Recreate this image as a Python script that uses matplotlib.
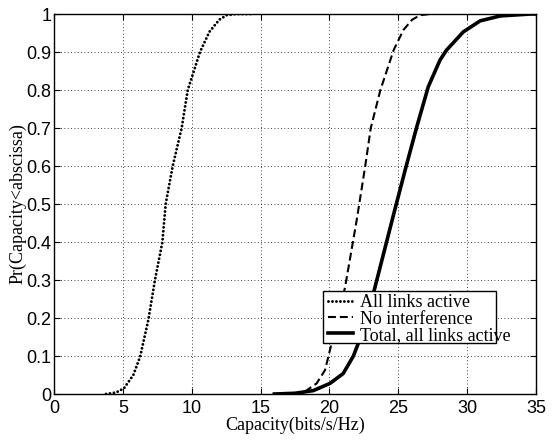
import matplotlib
matplotlib.use("Agg")
import matplotlib.pyplot as plt
from matplotlib.patches import Rectangle

# CDF curves
all_x = [3.78, 4.5, 5.08, 5.76, 6.25, 6.85, 7.33, 7.87, 8.11, 8.62, 9.27, 9.71, 10.6, 11.28, 12.0, 12.54, 13.2, 14.35]
all_y = [0.0, 0.004, 0.015, 0.05, 0.098, 0.195, 0.30, 0.40, 0.50, 0.60, 0.70, 0.80, 0.90, 0.953, 0.985, 0.997, 1.0, 1.0]

noint_x = [16.5, 17.5, 18.2, 19.07, 19.68, 20.1, 20.65, 21.13, 21.98, 22.59, 23.0, 23.7, 24.66, 25.37, 26.0, 26.58, 27.3]
noint_y = [0.0, 0.001, 0.006, 0.028, 0.063, 0.125, 0.21, 0.28, 0.458, 0.598, 0.70, 0.80, 0.905, 0.958, 0.985, 0.997, 1.0]

total_x = [16.0, 17.5, 18.83, 20.04, 21.0, 21.74, 22.46, 23.3, 24.64, 25.56, 26.34, 27.18, 28.03, 28.5, 29.72, 30.94, 32.4, 34.6, 35.0]
total_y = [0.0, 0.002, 0.009, 0.028, 0.054, 0.10, 0.168, 0.28, 0.47, 0.598, 0.703, 0.809, 0.879, 0.905, 0.953, 0.982, 0.995, 1.0, 1.0]

labels = ["All links active", "No interference", "Total, all links active"]

fig = plt.figure(figsize=(5.59, 4.40), dpi=100)
ax = fig.add_axes([0.0966, 0.1045, 0.8623, 0.8636])

ax.plot(all_x, all_y, color="black", linestyle=(0, (0.01, 1.35)), linewidth=2.1,
        dash_capstyle="round", label=labels[0])
ax.plot(noint_x, noint_y, color="black", linestyle=(0, (3.8, 1.9)), linewidth=1.5, label=labels[1])
ax.plot(total_x, total_y, color="black", linestyle="-", linewidth=2.6, label=labels[2])

ax.set_xlim(0, 35)
ax.set_ylim(0, 1)
ax.set_xticks(range(0, 36, 5))
ax.set_yticks([i / 10 for i in range(11)])
ax.set_yticklabels(["0", "0.1", "0.2", "0.3", "0.4", "0.5", "0.6", "0.7", "0.8", "0.9", "1"])
ax.grid(True, color="black", linestyle=(0, (1, 3)), linewidth=0.6)
ax.tick_params(direction="in", top=True, right=True, length=4, labelsize=13)
ax.tick_params(axis="x", pad=4)
ax.tick_params(axis="y", pad=2)
for lab in ax.get_xticklabels() + ax.get_yticklabels():
    lab.set_family("Liberation Sans")
for sp in ax.spines.values():
    sp.set_linewidth(1.0)

ax.set_xlabel("Capacity(bits/s/Hz)", family="Liberation Serif", fontsize=13, labelpad=0)
ax.set_ylabel("Pr(Capacity<abscissa)", family="Liberation Serif", fontsize=13, labelpad=0)

# legend text overflows its box in the original, so draw the box separately
leg = ax.legend(loc="upper left", bbox_to_anchor=(0.568, 0.262), prop={"family": "Liberation Serif", "size": 13},
                frameon=False, handlelength=1.4, handletextpad=0.4,
                borderpad=0, labelspacing=-0.05, borderaxespad=0)
ax.add_patch(Rectangle((0.558, 0.134), 0.359, 0.137, transform=ax.transAxes, fill=True,
                       facecolor="white", edgecolor="black", linewidth=1.0, zorder=4.9))
leg.set_zorder(5)

fig.savefig("out.png", dpi=100)
